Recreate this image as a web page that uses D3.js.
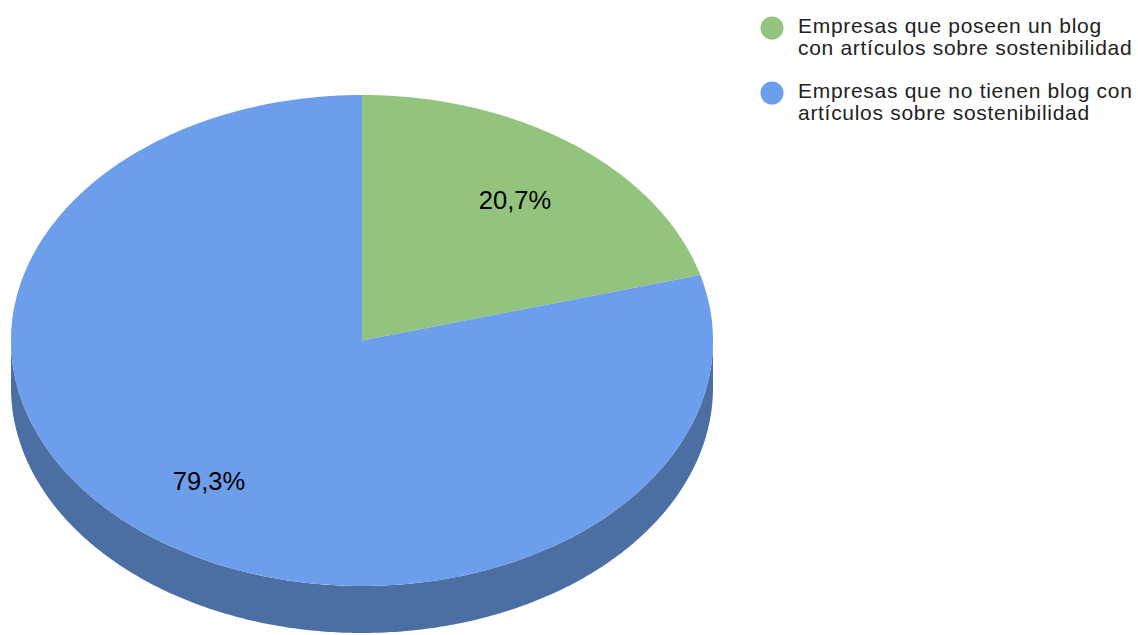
<!DOCTYPE html>
<html>
<head>
<meta charset="UTF-8">
<script src="https://d3js.org/d3.v7.min.js"></script>
<style>
  body { margin: 0; background: #fff; font-family: "Liberation Sans", Arial, sans-serif; }
</style>
</head>
<body>
<svg id="chart" width="1138" height="635"></svg>
<script>
// datos
const categories = [
  "Empresas que poseen un blog con artículos sobre sostenibilidad",
  "Empresas que no tienen blog con artículos sobre sostenibilidad"
];
const values = [20.7, 79.3];
const valueLabels = ["20,7%", "79,3%"];
const legendLines = [
  ["Empresas que poseen un blog", "con artículos sobre sostenibilidad"],
  ["Empresas que no tienen blog con", "artículos sobre sostenibilidad"]
];
const colors = ["#93c47d", "#6d9eeb"];
const sideColors = ["#6a8f5a", "#4b6fa3"];

// geometria
const cx = 362, cy = 340.5, rx = 351, ry = 245.5, depth = 47;
const svg = d3.select("#chart");

const pie = d3.pie().sort(null).value(d => d);
const arcs = pie(values);

// punto sobre la elipse (angulo desde las 12, sentido horario)
const pt = (a, dy = 0) => [cx + rx * Math.sin(a), cy - ry * Math.cos(a) + dy];

function ellipseArc(a0, a1, dy) {
  const n = Math.max(2, Math.ceil((a1 - a0) / 0.01));
  return d3.range(n + 1).map(i => pt(a0 + (a1 - a0) * i / n, dy));
}

// lados (solo la mitad frontal es visible)
const front0 = Math.PI / 2, front1 = Math.PI * 1.5;
arcs.forEach((d, i) => {
  const a0 = Math.max(d.startAngle, front0), a1 = Math.min(d.endAngle, front1);
  if (a1 <= a0) return;
  const top = ellipseArc(a0, a1, 0);
  const bottom = ellipseArc(a0, a1, depth).reverse();
  svg.append("path")
    .attr("d", d3.line()(top.concat(bottom)) + "Z")
    .attr("fill", sideColors[i]);
});

// cara superior
arcs.forEach((d, i) => {
  const pts = [[cx, cy]].concat(ellipseArc(d.startAngle, d.endAngle, 0));
  svg.append("path")
    .attr("d", d3.line()(pts) + "Z")
    .attr("fill", colors[i]);
});

// etiquetas
arcs.forEach((d, i) => {
  const mid = (d.startAngle + d.endAngle) / 2;
  const k = 0.72;
  svg.append("text")
    .attr("x", cx + rx * k * Math.sin(mid))
    .attr("y", cy - ry * k * Math.cos(mid))
    .attr("text-anchor", "middle")
    .attr("dominant-baseline", "central")
    .attr("font-size", 25.5)
    .attr("fill", "#000")
    .text(valueLabels[i]);
});

// leyenda
const legend = svg.append("g").attr("transform", "translate(772,28)");
legendLines.forEach((lines, i) => {
  const g = legend.append("g").attr("transform", `translate(0,${i * 65})`);
  g.append("circle").attr("r", 11.5).attr("fill", colors[i]);
  lines.forEach((t, j) => {
    g.append("text")
      .attr("x", 26)
      .attr("y", 5 + j * 22)
      .attr("font-size", 21)
      .attr("letter-spacing", 0.7)
      .attr("fill", "#222")
      .text(t);
  });
});
</script>
</body>
</html>
